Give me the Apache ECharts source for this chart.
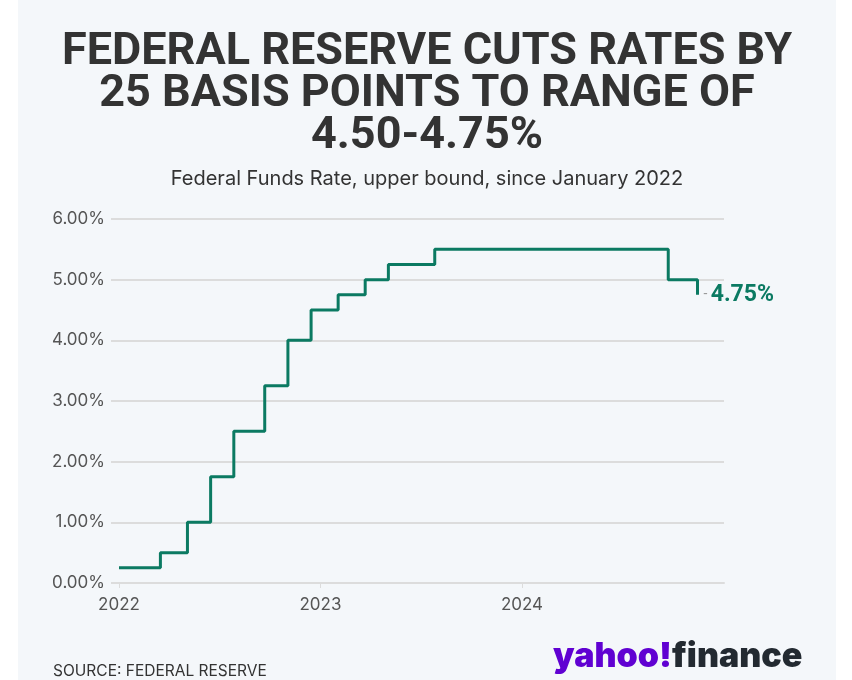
<!DOCTYPE html>
<html>
<head>
<meta charset="utf-8">
<script src="https://cdn.jsdelivr.net/npm/echarts@6/dist/echarts.min.js"></script>
<style>
html,body{margin:0;padding:0;background:#ffffff;}
#chart{width:852px;height:680px;}
</style>
</head>
<body>
<div id="chart"></div>
<script>
// Data: date of rate change, new upper bound (%)
const changeDates = ['2022-01-01','2022-03-17','2022-05-05','2022-06-16','2022-07-28','2022-09-22','2022-11-03','2022-12-15','2023-02-02','2023-03-23','2023-05-04','2023-07-27','2024-09-22','2024-11-14'];
const upperBound = [0.25,0.50,1.00,1.75,2.50,3.25,4.00,4.50,4.75,5.00,5.25,5.50,5.00,4.75];
const yTicks = [0,1,2,3,4,5,6];
const xTickYears = ['2022-01-01','2023-01-01','2024-01-01'];
const titleLines = ['FEDERAL RESERVE CUTS RATES BY','25 BASIS POINTS TO RANGE OF','4.50-4.75%'];
const subtitleText = 'Federal Funds Rate, upper bound, since January 2022';
const sourceText = 'SOURCE: FEDERAL RESERVE';

const ts = s => { const p = s.split('-').map(Number); return Date.UTC(p[0], p[1]-1, p[2]); };
const seriesData = changeDates.map((d,i) => [ts(d), upperBound[i]]);

const chart = echarts.init(document.getElementById('chart'), null, {renderer:'canvas'});
const green = '#0b7a62';
const graphics = [
  {type:'rect', z:-10, silent:true, shape:{x:18,y:0,width:818,height:680}, style:{fill:'#f4f7fa'}},
  {type:'text', x:427, y:179, style:{text:subtitleText, align:'center', verticalAlign:'middle', font:'20px Inter', fill:'#333333'}},
  {type:'text', x:53, y:671, style:{text:sourceText, align:'left', verticalAlign:'middle', font:'15.5px Inter', fill:'#333333'}},
  {type:'text', x:553, y:657, style:{
    text:'{y|yahoo!}{f|finance}', verticalAlign:'middle',
    rich:{
      y:{fontFamily:'Inter', fontWeight:900, fontSize:34, fill:'#6001d2'},
      f:{fontFamily:'Inter', fontWeight:900, fontSize:34, fill:'#232a31'}
    }
  }}
];
titleLines.forEach((t,i) => graphics.push({type:'text', x:427, y:53 + i*42,
  style:{text:t, align:'center', verticalAlign:'middle', font:'bold 45px Roboto', fill:'#333333'}}));

chart.setOption({
  backgroundColor: '#ffffff',
  animation: false,
  graphic: graphics,
  grid: {left:119, right:128, top:219, bottom:97, containLabel:false},
  xAxis: {
    type:'value',
    min: ts('2022-01-01'), max: ts('2025-01-01'),
    axisLine:{show:true, lineStyle:{color:'#dcdcdc', width:2}},
    axisTick:{show:true, length:5, lineStyle:{color:'#dcdcdc', width:1}, customValues: xTickYears.map(ts)},
    axisLabel:{color:'#555555', fontFamily:'Inter', fontSize:17, margin:13,
      customValues: xTickYears.map(ts),
      formatter: v => String(new Date(v).getUTCFullYear())},
    splitLine:{show:false}
  },
  yAxis: {
    type:'value', min:0, max:6, interval:1,
    axisLine:{show:false},
    axisTick:{show:true, length:8, lineStyle:{color:'#dcdcdc', width:2}},
    axisLabel:{color:'#555555', fontFamily:'Inter', fontSize:17, margin:14,
      formatter: v => v.toFixed(2) + '%'},
    splitLine:{show:true, lineStyle:{color:'#dcdcdc', width:2}}
  },
  series: [{
    type:'line', step:'end', data: seriesData,
    symbol:'none', lineStyle:{color:green, width:3},
    endLabel:{show:true, distance:6,
      formatter: p => '{d|-} {v|' + p.value[1].toFixed(2) + '%}',
      rich:{ d:{color:'#999999', fontSize:14, fontFamily:'Roboto'},
             v:{color:green, fontSize:23, fontWeight:'bold', fontFamily:'Roboto'} }
    }
  }]
});
</script>
</body>
</html>
